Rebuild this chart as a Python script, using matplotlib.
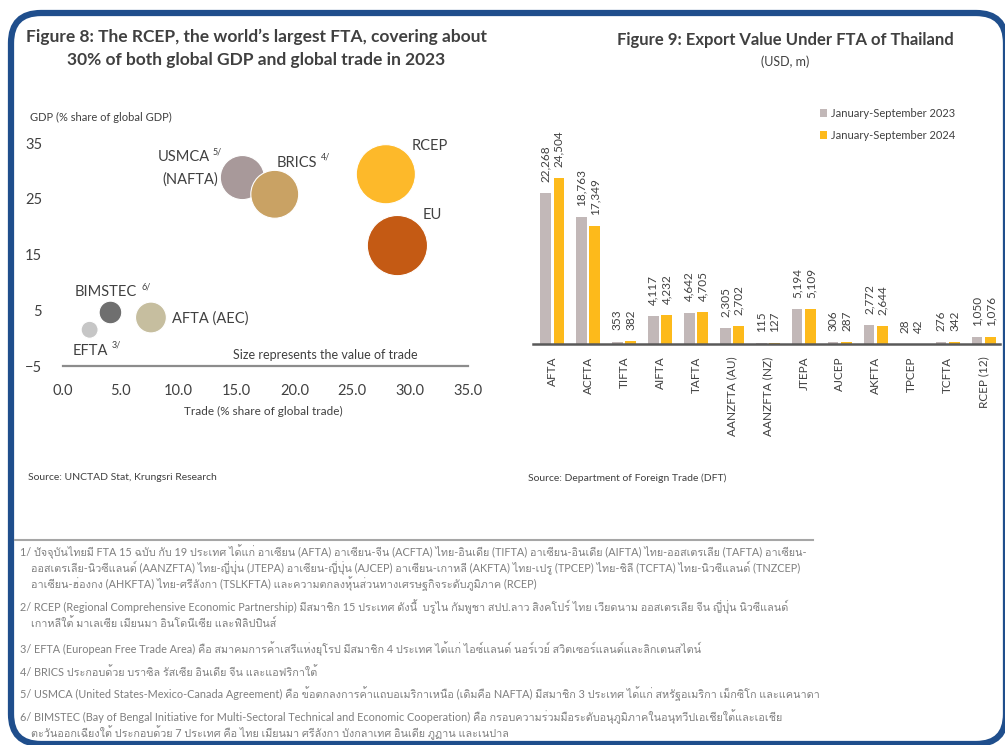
import matplotlib
matplotlib.use("Agg")
import matplotlib.pyplot as plt
from matplotlib import font_manager
from matplotlib.ft2font import FT2Font
from matplotlib.patches import FancyBboxPatch
from matplotlib.transforms import IdentityTransform

# ---- Figure 8 data: bubble chart ----
blocs = ["USMCA", "BRICS", "RCEP", "EU", "BIMSTEC", "AFTA (AEC)", "EFTA"]
trade_share = [15.5, 18.3, 27.9, 28.9, 4.1, 7.6, 2.3]
gdp_share = [28.8, 25.8, 29.4, 16.6, 4.6, 3.7, 1.5]
bloc_colors = ["#A8999A", "#C9A264", "#FDB92A", "#C45A14", "#6F6F6F", "#C6BE9F", "#C6C6C6"]
x_ticks = [0, 5, 10, 15, 20, 25, 30, 35]
y_ticks = [-5, 5, 15, 25, 35]

# ---- Figure 9 data: export value under FTA ----
fta = ["AFTA", "ACFTA", "TIFTA", "AIFTA", "TAFTA", "AANZFTA (AU)", "AANZFTA (NZ)",
       "JTEPA", "AJCEP", "AKFTA", "TPCEP", "TCFTA", "RCEP (12)"]
exp_2023 = [22268, 18763, 353, 4117, 4642, 2305, 115, 5194, 306, 2772, 28, 276, 1050]
exp_2024 = [24504, 17349, 382, 4232, 4705, 2702, 127, 5109, 287, 2644, 42, 342, 1076]

footnotes = [
    "1/ ปัจจุบันไทยมี FTA 15 ฉบับ กับ 19 ประเทศ ได้แก่ อาเซียน (AFTA) อาเซียน-จีน (ACFTA) ไทย-อินเดีย (TIFTA) อาเซียน-อินเดีย (AIFTA) ไทย-ออสเตรเลีย (TAFTA) อาเซียน-",
    "    ออสเตรเลีย-นิวซีแลนด์ (AANZFTA) ไทย-ญี่ปุ่น (JTEPA) อาเซียน-ญี่ปุ่น (AJCEP) อาเซียน-เกาหลี (AKFTA) ไทย-เปรู (TPCEP) ไทย-ชิลี (TCFTA) ไทย-นิวซีแลนด์ (TNZCEP)",
    "    อาเซียน-ฮ่องกง (AHKFTA) ไทย-ศรีลังกา (TSLKFTA) และความตกลงหุ้นส่วนทางเศรษฐกิจระดับภูมิภาค (RCEP)",
    "2/ RCEP (Regional Comprehensive Economic Partnership) มีสมาชิก 15 ประเทศ ดังนี้  บรูไน กัมพูชา สปป.ลาว สิงคโปร์ ไทย เวียดนาม ออสเตรเลีย จีน ญี่ปุ่น นิวซีแลนด์",
    "    เกาหลีใต้ มาเลเซีย เมียนมา อินโดนีเซีย และฟิลิปปินส์",
    "3/ EFTA (European Free Trade Area) คือ สมาคมการค้าเสรีแห่งยุโรป มีสมาชิก 4 ประเทศ ได้แก่ ไอซ์แลนด์ นอร์เวย์ สวิตเซอร์แลนด์และลิกเตนสไตน์",
    "4/ BRICS ประกอบด้วย บราซิล รัสเซีย อินเดีย จีน และแอฟริกาใต้",
    "5/ USMCA (United States-Mexico-Canada Agreement) คือ ข้อตกลงการค้าแถบอเมริกาเหนือ (เดิมคือ NAFTA) มีสมาชิก 3 ประเทศ ได้แก่ สหรัฐอเมริกา เม็กซิโก และแคนาดา",
    "6/ BIMSTEC (Bay of Bengal Initiative for Multi-Sectoral Technical and Economic Cooperation) คือ กรอบความร่วมมือระดับอนุภูมิภาคในอนุทวีปเอเชียใต้และเอเชีย",
    "    ตะวันออกเฉียงใต้ ประกอบด้วย 7 ประเทศ คือ ไทย เมียนมา ศรีลังกา บังกลาเทศ อินเดีย ภูฏาน และเนปาล",
]
footnote_y = [552, 568, 584, 607, 623, 649, 672, 694, 717, 733]


def find_thai_font():
    for f in font_manager.fontManager.ttflist:
        try:
            if 0x0E01 in FT2Font(f.fname).get_charmap():
                return f.name
        except Exception:
            pass
    return None


thai = find_thai_font()
plt.rcParams["font.family"] = ["Lato", "DejaVu Sans"]
foot_family = ["Lato"] + ([thai] if thai else []) + ["DejaVu Sans"]

W, H = 1005, 745
TXT = "#404040"
fig = plt.figure(figsize=(W / 100, H / 100), dpi=100)


def rect(l, t, r, b):
    return [l / W, 1 - b / H, (r - l) / W, (b - t) / H]


def ftext(x, y, s, **kw):
    fig.text(x / W, 1 - y / H, s, **kw)


# ---- frame ----
frame = FancyBboxPatch((11, 1), 995, 731, boxstyle="round,pad=0,rounding_size=30",
                       transform=IdentityTransform(), fill=False, ec="#1F4E8C", lw=4.5)
fig.patches.append(frame)

# ---- Figure 8 ----
ax = fig.add_axes(rect(63, 143, 468, 366))
ax.scatter(trade_share, gdp_share, s=[65 * t for t in trade_share], c=bloc_colors,
           edgecolors="white", linewidths=0.8, zorder=3, clip_on=False)
ax.set_xlim(0, 35)
ax.set_ylim(-5, 35)
ax.set_xticks(x_ticks)
ax.set_xticklabels([f"{v:.1f}" for v in x_ticks])
ax.set_yticks(y_ticks)
for s in ["top", "right", "left"]:
    ax.spines[s].set_visible(False)
ax.spines["bottom"].set_color("#8C8C8C")
ax.spines["bottom"].set_linewidth(1.6)
ax.tick_params(length=0, labelsize=10.5, labelcolor=TXT)
ax.tick_params(axis="x", pad=13)
ax.tick_params(axis="y", pad=15)

lab = dict(fontsize=10.5, color=TXT, va="center")
sup = dict(fontsize=6.5, color=TXT, va="center")
ax.text(12.70, 32.5, "USMCA", ha="right", **lab)
ax.text(12.9, 33.4, "5/", ha="left", **sup)
ax.text(10.98, 28.5, "(NAFTA)", ha="center", **lab)
ax.text(18.5, 31.4, "BRICS", ha="left", **lab)
ax.text(22.3, 32.5, "4/", ha="left", **sup)
ax.text(30.15, 34.5, "RCEP", ha="left", **lab)
ax.text(31.1, 22.1, "EU", ha="left", **lab)
ax.text(1.0, 8.3, "BIMSTEC", ha="left", **lab)
ax.text(6.8, 9.2, "6/", ha="left", **sup)
ax.text(9.4, 3.5, "AFTA (AEC)", ha="left", **lab)
ax.text(0.85, -2.3, "EFTA", ha="left", **lab)
ax.text(4.2, -1.3, "3/", ha="left", **sup)
ax.text(14.7, -3.0, "Size represents the value of trade", ha="left", va="center",
        fontsize=9, color=TXT)

ftext(256, 37, "Figure 8: The RCEP, the world\u2019s largest FTA, covering about",
      ha="center", va="center", fontsize=12.5, fontweight="bold", color=TXT)
ftext(256, 60, "30% of both global GDP and global trade in 2023",
      ha="center", va="center", fontsize=12.5, fontweight="bold", color=TXT)
ftext(30, 117, "GDP (% share of global GDP)", ha="left", va="center", fontsize=8, color=TXT)
ftext(263, 411, "Trade (% share of global trade)", ha="center", va="center", fontsize=8.5, color=TXT)
ftext(28, 478, "Source: UNCTAD Stat, Krungsri Research", ha="left", va="center",
      fontsize=7.5, color=TXT)

# ---- Figure 9 ----
bx = fig.add_axes(rect(533, 100, 1000, 344))
idx = list(range(len(fta)))
b1 = bx.bar([i - 0.19 for i in idx], exp_2023, width=0.3, color="#C2B8B8",
            label="January-September 2023")
b2 = bx.bar([i + 0.19 for i in idx], exp_2024, width=0.3, color="#FDBA1B",
            label="January-September 2024")
for cont in (b1, b2):
    bx.bar_label(cont, labels=[f"{v:,}" for v in cont.datavalues], rotation=90,
                 padding=8, fontsize=8.5, color=TXT)
bx.set_xlim(-0.53, 12.45)
bx.set_ylim(0, 36000)
bx.set_xticks(idx)
bx.set_xticklabels(fta, rotation=90, fontsize=8.5, color=TXT)
bx.set_yticks([])
for s in ["top", "right", "left"]:
    bx.spines[s].set_visible(False)
bx.spines["bottom"].set_color("#595959")
bx.spines["bottom"].set_linewidth(1.8)
bx.tick_params(axis="x", length=0, pad=9)
bx.legend(loc="upper right", bbox_to_anchor=(965 / W, 1 - 98 / H),
          bbox_transform=fig.transFigure, frameon=False, fontsize=8,
          handlelength=0.7, handleheight=0.7, handletextpad=0.3,
          labelspacing=1.0, labelcolor=TXT)

ftext(785, 40, "Figure 9: Export Value Under FTA of Thailand", ha="center", va="center",
      fontsize=12, fontweight="bold", color=TXT)
ftext(785, 62, "(USD, m)", ha="center", va="center", fontsize=9, color=TXT)
ftext(528, 478, "Source: Department of Foreign Trade (DFT)", ha="left", va="center",
      fontsize=7.5, color=TXT)

# ---- footnotes ----
fig.add_artist(plt.Line2D([15 / W, 813 / W], [1 - 540 / H] * 2,
                          transform=fig.transFigure, color="#A6A6A6", lw=1.5))
for line, y in zip(footnotes, footnote_y):
    ftext(20, y, line, ha="left", va="center", fontsize=7.8, color="#7F7F7F",
          family=foot_family)

fig.savefig("out.png", dpi=100)
